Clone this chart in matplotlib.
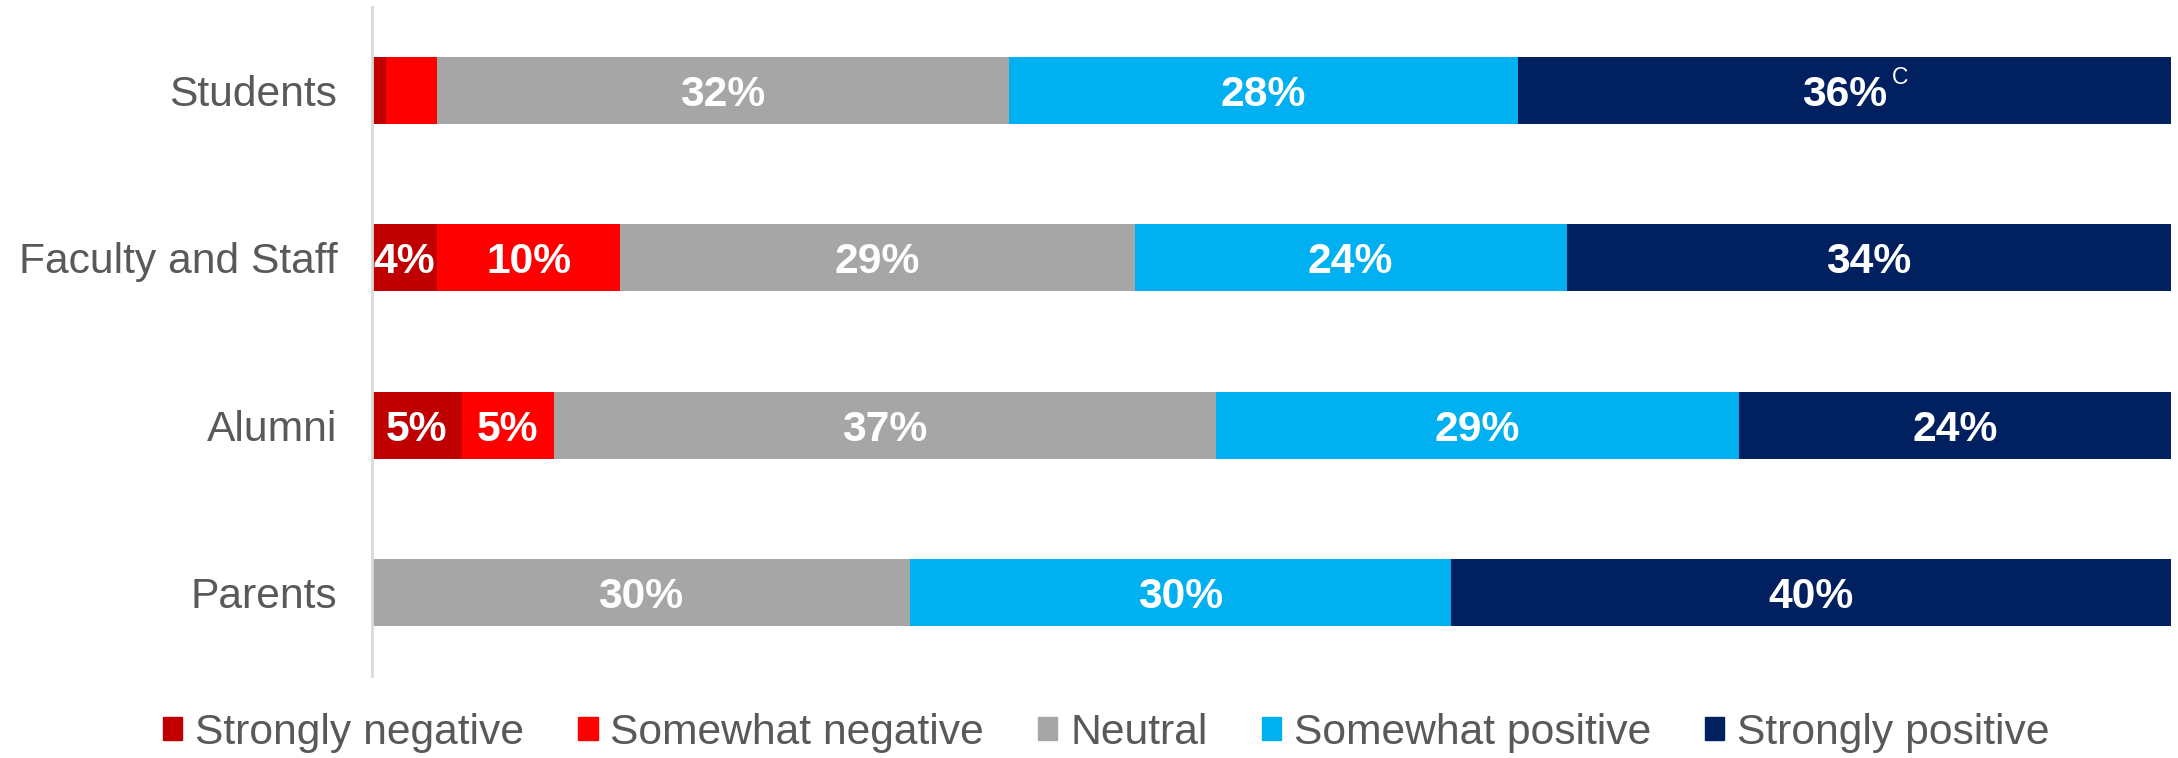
import matplotlib.pyplot as plt
import numpy as np
from matplotlib.patches import Patch

plt.rcParams["font.family"] = ["Liberation Sans", "DejaVu Sans"]

groups = ["Students", "Faculty and Staff", "Alumni", "Parents"]
series = ["Strongly negative", "Somewhat negative", "Neutral", "Somewhat positive", "Strongly positive"]
colors = ["#C00000", "#FF0000", "#A6A6A6", "#00B0F0", "#002060"]

# share of responses per group, in series order
strongly_negative = [0.8, 3.6, 5.0, 0.0]
somewhat_negative = [2.8, 10.2, 5.1, 0.0]
neutral = [31.8, 28.6, 36.8, 29.9]
somewhat_positive = [28.3, 24.0, 29.1, 30.1]
strongly_positive = [36.3, 33.6, 24.0, 40.0]

# printed labels ("" = no label shown)
labels = [
    ["", "", "32%", "28%", "36%"],
    ["4%", "10%", "29%", "24%", "34%"],
    ["5%", "5%", "37%", "29%", "24%"],
    ["", "", "30%", "30%", "40%"],
]
notes = {(0, 4): "C"}

values = np.array([strongly_negative, somewhat_negative, neutral,
                   somewhat_positive, strongly_positive])

fs = 30.7
fig = plt.figure(figsize=(21.78, 7.58), dpi=100)
ax = fig.add_axes([0.1708, 0.108, 0.9968 - 0.1708, 0.9908 - 0.108])

y = np.arange(len(groups))
left = np.zeros(len(groups))
for i, (name, col) in enumerate(zip(series, colors)):
    ax.barh(y, values[i], left=left, height=0.4, color=col, label=name)
    for j in range(len(groups)):
        txt = labels[j][i]
        if txt:
            cx = left[j] + values[i][j] / 2
            ax.text(cx, y[j], txt, ha="center", va="center_baseline", color="white",
                    fontsize=fs, fontweight="bold")
            if (j, i) in notes:
                ax.annotate(notes[(j, i)], (cx, y[j]), xytext=(34, 5),
                            textcoords="offset points", ha="left", va="baseline",
                            color="white", fontsize=16.5)
    left += values[i]

ax.set_xlim(0, left.max())
ax.set_ylim(3.5, -0.5)
ax.set_yticks(y)
ax.set_yticklabels(groups, fontsize=fs, color="#595959")
ax.tick_params(axis="y", length=0, pad=25)
ax.set_xticks([])
for s in ["top", "right", "bottom"]:
    ax.spines[s].set_visible(False)
ax.spines["left"].set_color("#D9D9D9")
ax.spines["left"].set_linewidth(2)

handles = [Patch(color=c, label=n) for c, n in zip(colors, series)]
fig.legend(handles=handles, loc="center", bbox_to_anchor=(0.508, 0.033), ncol=5,
           frameon=False, fontsize=fs, labelcolor="#595959",
           handlelength=0.45, handleheight=0.45, handletextpad=0.3,
           columnspacing=1.27, borderpad=0)

fig.savefig("out.png", dpi=100)
